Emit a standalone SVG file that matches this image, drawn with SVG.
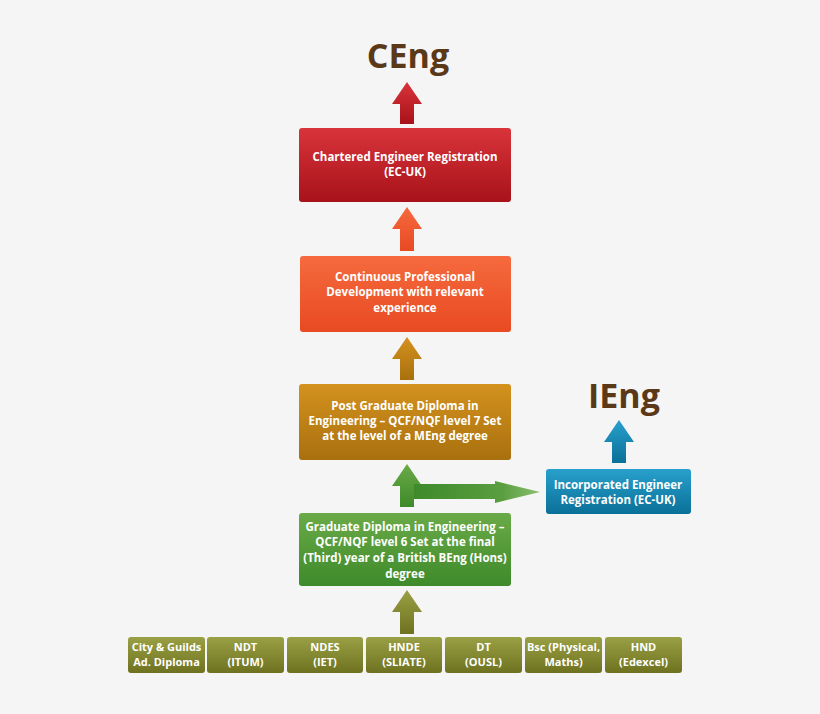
<svg xmlns="http://www.w3.org/2000/svg" width="820" height="714" viewBox="0 0 820 714">
<defs>
<linearGradient id="gr" x1="0" y1="0" x2="0" y2="1"><stop offset="0" stop-color="#d8343a"/><stop offset="1" stop-color="#a8121a"/></linearGradient>
<linearGradient id="go" x1="0" y1="0" x2="0" y2="1"><stop offset="0" stop-color="#f66a3e"/><stop offset="1" stop-color="#e84a22"/></linearGradient>
<linearGradient id="ga" x1="0" y1="0" x2="0" y2="1"><stop offset="0" stop-color="#d4921e"/><stop offset="1" stop-color="#a8700e"/></linearGradient>
<linearGradient id="gg" x1="0" y1="0" x2="0" y2="1"><stop offset="0" stop-color="#6aaa48"/><stop offset="1" stop-color="#3e8a2a"/></linearGradient>
<linearGradient id="gb" x1="0" y1="0" x2="0" y2="1"><stop offset="0" stop-color="#28a0cc"/><stop offset="1" stop-color="#0a7098"/></linearGradient>
<linearGradient id="gv" x1="0" y1="0" x2="0" y2="1"><stop offset="0" stop-color="#9aa044"/><stop offset="1" stop-color="#6e7220"/></linearGradient>
<linearGradient id="gh" x1="0" y1="0" x2="1" y2="0"><stop offset="0" stop-color="#3e8a2a"/><stop offset="0.7" stop-color="#5a9e40"/><stop offset="1" stop-color="#8cc070"/></linearGradient>
</defs>
<style>
.t{font-family:"Open Sans","Liberation Sans",sans-serif;font-weight:bold;font-size:11px;fill:#fff;text-anchor:middle}
.s{font-family:"Open Sans","Liberation Sans",sans-serif;font-weight:bold;font-size:11.5px;fill:#fff;text-anchor:middle}
.h{font-family:"Open Sans","Liberation Sans",sans-serif;font-weight:bold;font-size:34px;fill:#5a3818;text-anchor:middle}
</style>
<rect width="820" height="714" fill="#f5f5f5"/>
<text class="h" x="408" y="68">CEng</text>
<text class="h" x="624" y="408">IEng</text>
<g id="connectors">
<path d="M392,104 L400,104 L400,124 L414,124 L414,104 L422,104 L407,82 Z" fill="url(#gr)"/>
<path d="M392,229 L400,229 L400,251 L414,251 L414,229 L422,229 L407,207 Z" fill="url(#go)"/>
<path d="M392,359 L400,359 L400,380 L414,380 L414,359 L422,359 L407,337 Z" fill="url(#ga)"/>
<path d="M392,486 L400,486 L400,507 L414,507 L414,486 L422,486 L407,464 Z" fill="url(#gg)"/>
<path d="M414,484 L495,484 L495,481 L540,492 L495,503 L495,499 L414,499 Z" fill="url(#gh)"/>
<path d="M604,442 L612,442 L612,463 L626,463 L626,442 L634,442 L619,420 Z" fill="url(#gb)"/>
<path d="M392,612 L400,612 L400,634 L414,634 L414,612 L422,612 L407,590 Z" fill="url(#gv)"/>
</g>
<g id="n1"><rect x="299" y="128" width="212" height="74" rx="3" fill="url(#gr)"/>
<text class="s" x="405" y="161">Chartered Engineer Registration</text><text class="s" x="405" y="176">(EC-UK)</text></g>
<g id="n2"><rect x="300" y="256" width="211" height="76" rx="3" fill="url(#go)"/>
<text class="s" x="405" y="281">Continuous Professional</text><text class="s" x="405" y="296">Development with relevant</text><text class="s" x="405" y="312">experience</text></g>
<g id="n3"><rect x="299" y="384" width="212" height="76" rx="3" fill="url(#ga)"/>
<text class="s" x="405" y="410">Post Graduate Diploma in</text><text class="s" x="405" y="425">Engineering – QCF/NQF level 7 Set</text><text class="s" x="405" y="440">at the level of a MEng degree</text></g>
<g id="n4"><rect x="299" y="513" width="212" height="73" rx="3" fill="url(#gg)"/>
<text class="s" x="405" y="531">Graduate Diploma in Engineering –</text><text class="s" x="405" y="546">QCF/NQF level 6 Set at the final</text><text class="s" x="405" y="562">(Third) year of a British BEng (Hons)</text><text class="s" x="405" y="578">degree</text></g>
<g id="n5"><rect x="546" y="469" width="145" height="45" rx="3" fill="url(#gb)"/>
<text class="s" x="618" y="489">Incorporated Engineer</text><text class="s" x="618" y="504">Registration (EC-UK)</text></g>
<g id="b1"><rect x="128" y="637" width="77" height="36" rx="3" fill="url(#gv)"/><text class="t" x="166.5" y="651">City &amp; Guilds</text><text class="t" x="166.5" y="666">Ad. Diploma</text></g>
<g id="b2"><rect x="207" y="637" width="77" height="36" rx="3" fill="url(#gv)"/><text class="t" x="245.5" y="651">NDT</text><text class="t" x="245.5" y="666">(ITUM)</text></g>
<g id="b3"><rect x="287" y="637" width="76" height="36" rx="3" fill="url(#gv)"/><text class="t" x="325" y="651">NDES</text><text class="t" x="325" y="666">(IET)</text></g>
<g id="b4"><rect x="366" y="637" width="76" height="36" rx="3" fill="url(#gv)"/><text class="t" x="404" y="651">HNDE</text><text class="t" x="404" y="666">(SLIATE)</text></g>
<g id="b5"><rect x="445" y="637" width="77" height="36" rx="3" fill="url(#gv)"/><text class="t" x="483.5" y="651">DT</text><text class="t" x="483.5" y="666">(OUSL)</text></g>
<g id="b6"><rect x="525" y="637" width="77" height="36" rx="3" fill="url(#gv)"/><text class="t" x="563.5" y="651">Bsc (Physical,</text><text class="t" x="563.5" y="666">Maths)</text></g>
<g id="b7"><rect x="605" y="637" width="77" height="36" rx="3" fill="url(#gv)"/><text class="t" x="643.5" y="651">HND</text><text class="t" x="643.5" y="666">(Edexcel)</text></g>
</svg>
